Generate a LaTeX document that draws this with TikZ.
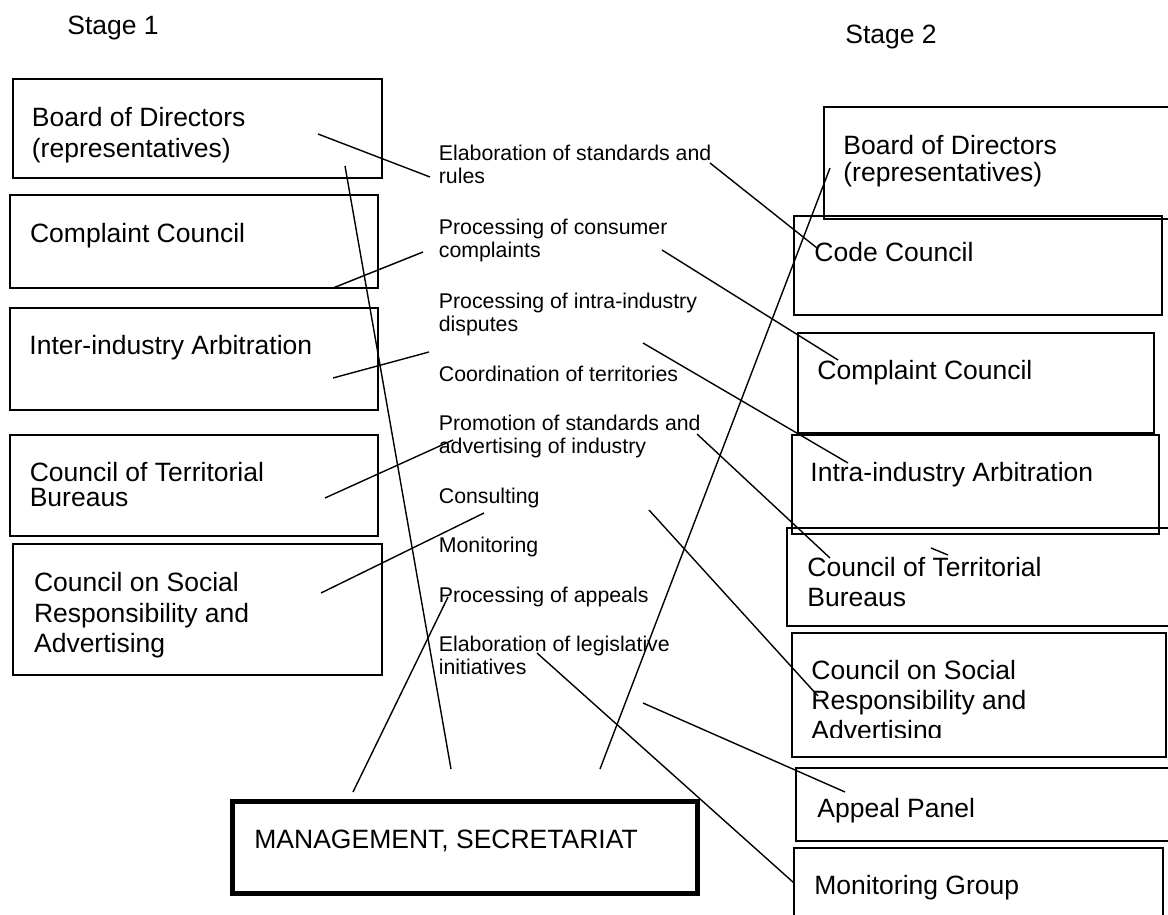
\documentclass[tikz,border=0pt]{standalone}
\usepackage{fontspec}
\setmainfont{Liberation Sans}
\usetikzlibrary{fit}
\tikzset{
box/.style={draw, line width=0.9pt, inner sep=0pt},
mainbox/.style={box, line width=2.5pt},
lbl/.style={anchor=north west, inner sep=0pt, align=left, font=\fontsize{13.25}{15.3}\selectfont},
act/.style={anchor=north west, inner sep=0pt, align=left, font=\fontsize{10.65}{11.5}\selectfont},
link/.style={line width=0.7pt}
}

\begin{document}
\begin{tikzpicture}[x=0.5pt, y=-0.5pt]
\useasboundingbox (0,0) rectangle (1168,915);
\clip (0,0) rectangle (1168,915);

\node[lbl] (stage1) at (67,16) {Stage 1};
\node[lbl] (stage2) at (845,25) {Stage 2};

% stage 1
\node[box, fit={(13,79) (382,178)}] (bod1) {};
\node[box, fit={(10,195) (378,288)}] (cc1) {};
\node[box, fit={(10,308) (378,410)}] (iia) {};
\node[box, fit={(10,435) (378,536)}] (ctb1) {};
\node[box, fit={(13,544) (382,675)}] (csr1) {};
\node[lbl] (bod1t) at (31.5,107) {Board of Directors\\(representatives)};
\node[lbl] (cc1t) at (29.7,223) {Complaint Council};
\node[lbl] (iiat) at (29,335) {Inter-industry Arbitration};
\node[lbl, font=\fontsize{13.25}{12.5}\selectfont] (ctb1t) at (29.4,462) {Council of Territorial\\Bureaus};
\node[lbl] (csr1t) at (33.7,572) {Council on Social\\Responsibility and\\Advertising};

% functions
\node[act] (elab) at (438.5,145) {Elaboration of standards and\\rules};
\node[act] (pcc) at (438.5,219) {Processing of consumer\\complaints};
\node[act] (pid) at (438.5,293) {Processing of intra-industry\\disputes};
\node[act] (coord) at (438.5,366) {Coordination of territories};
\node[act] (promo) at (438.5,415) {Promotion of standards and\\advertising of industry};
\node[act] (consult) at (438.5,488) {Consulting};
\node[act] (monit) at (438.5,537) {Monitoring};
\node[act] (appeals) at (438.5,586.5) {Processing of appeals};
\node[act] (legis) at (438.5,636) {Elaboration of legislative\\initiatives};

\node[mainbox, fit={(232,801) (697,893)}] (mgmt) {};
\node[lbl] (mgmtt) at (254,830) {MANAGEMENT, SECRETARIAT};

% stage 2
\node[box, fit={(824,107) (1180,219)}] (bod2) {};
\node[box, fit={(794,216) (1162,315)}] (code) {};
\node[box, fit={(798,333) (1154,433)}] (cc2) {};
\node[box, fit={(792,435) (1159,534)}] (intra) {};
\node[box, fit={(787,528) (1180,626)}] (ctb2) {};
\node[box, fit={(792,633) (1166,757)}] (csr2) {};
\node[box, fit={(796,768) (1180,841)}] (appeal) {};
\node[box, fit={(794,848) (1163,930)}] (mongrp) {};
\node[lbl, font=\fontsize{13.25}{13.35}\selectfont] (bod2t) at (843,135) {Board of Directors\\(representatives)};
\node[lbl] (codet) at (814,242) {Code Council};
\node[lbl] (cc2t) at (817,360) {Complaint Council};
\node[lbl] (intrat) at (810,462) {Intra-industry Arbitration};
\node[lbl, font=\fontsize{13.25}{15}\selectfont] (ctb2t) at (807,557) {Council of Territorial\\Bureaus};
\begin{scope}
\clip (780,600) rectangle (1168,737);
\node[lbl, font=\fontsize{13.25}{15}\selectfont] (csr2t) at (811,660) {Council on Social\\Responsibility and\\Advertising};
\end{scope}
\node[lbl] (appealt) at (817,798) {Appeal Panel};
\node[lbl] (mongrpt) at (814,875) {Monitoring Group};

% connectors
\coordinate (bod1 a) at (318,134);  \coordinate (elab a) at (430,177);
\coordinate (bod1 b) at (345,166);  \coordinate (mgmt b) at (451,769);
\coordinate (cc1 a) at (333,288);   \coordinate (pcc a) at (423,252);
\coordinate (iia a) at (333,378);   \coordinate (pid a) at (429,352);
\coordinate (ctb1 a) at (325,498);  \coordinate (promo a) at (453,440);
\coordinate (csr1 a) at (321,593);  \coordinate (consult a) at (484,513);
\coordinate (mgmt a) at (353,792);  \coordinate (appeals a) at (448,597);
\coordinate (mgmt c) at (600,769);  \coordinate (bod2 a) at (830,168);
\coordinate (elab b) at (710,163);  \coordinate (code a) at (817,248);
\coordinate (pcc b) at (662,250);   \coordinate (cc2 a) at (838,360);
\coordinate (pid b) at (643,343);   \coordinate (intra a) at (848,463);
\coordinate (promo b) at (697,434); \coordinate (ctb2 a) at (830,558);
\coordinate (monit b) at (649,510); \coordinate (csr2 a) at (818,696);
\coordinate (appeals b) at (643,703); \coordinate (appeal a) at (845,792);
\coordinate (legis b) at (537,653); \coordinate (mongrp a) at (794,883);
\coordinate (ctb2 b) at (931,548);  \coordinate (ctb2 c) at (948,555);

\draw[link] (bod1 a) -- (elab a);
\draw[link] (bod1 b) -- (mgmt b);
\draw[link] (cc1 a) -- (pcc a);
\draw[link] (iia a) -- (pid a);
\draw[link] (ctb1 a) -- (promo a);
\draw[link] (csr1 a) -- (consult a);
\draw[link] (mgmt a) -- (appeals a);
\draw[link] (mgmt c) -- (bod2 a);
\draw[link] (elab b) -- (code a);
\draw[link] (pcc b) -- (cc2 a);
\draw[link] (pid b) -- (intra a);
\draw[link] (promo b) -- (ctb2 a);
\draw[link] (monit b) -- (csr2 a);
\draw[link] (appeals b) -- (appeal a);
\draw[link] (legis b) -- (mongrp a);
\draw[link] (ctb2 b) -- (ctb2 c);
\end{tikzpicture}
\end{document}
